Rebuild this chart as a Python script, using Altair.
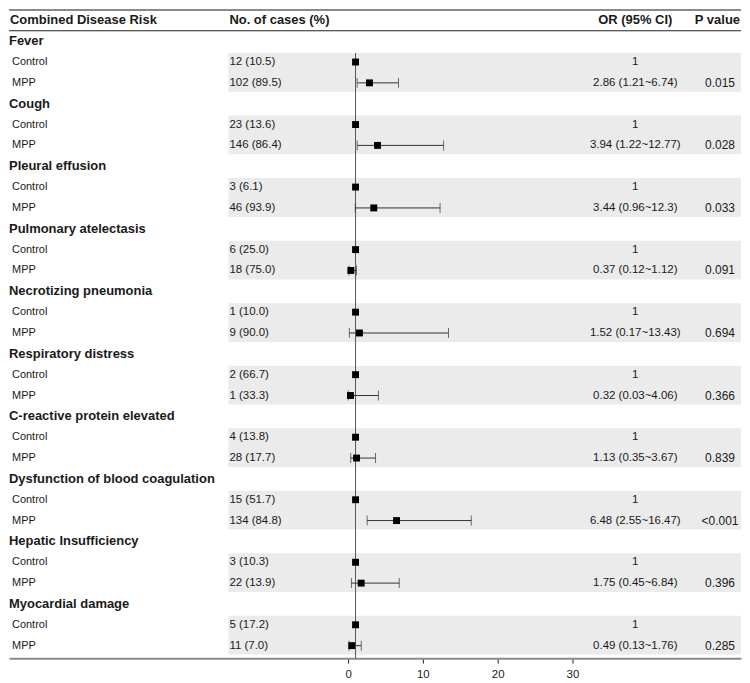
import altair as alt
import pandas as pd

groups = ["Fever", "Cough", "Pleural effusion", "Pulmonary atelectasis",
          "Necrotizing pneumonia", "Respiratory distress",
          "C-reactive protein elevated", "Dysfunction of blood coagulation",
          "Hepatic Insufficiency", "Myocardial damage"]
control_cases = ["12 (10.5)", "23 (13.6)", "3 (6.1)", "6 (25.0)", "1 (10.0)",
                 "2 (66.7)", "4 (13.8)", "15 (51.7)", "3 (10.3)", "5 (17.2)"]
mpp_cases = ["102 (89.5)", "146 (86.4)", "46 (93.9)", "18 (75.0)", "9 (90.0)",
             "1 (33.3)", "28 (17.7)", "134 (84.8)", "22 (13.9)", "11 (7.0)"]
or_mpp = [2.86, 3.94, 3.44, 0.37, 1.52, 0.32, 1.13, 6.48, 1.75, 0.49]
ci_lo = [1.21, 1.22, 0.96, 0.12, 0.17, 0.03, 0.35, 2.55, 0.45, 0.13]
ci_hi = [6.74, 12.77, 12.3, 1.12, 13.43, 4.06, 3.67, 16.47, 6.84, 1.76]
or_text = ["2.86 (1.21~6.74)", "3.94 (1.22~12.77)", "3.44 (0.96~12.3)",
           "0.37 (0.12~1.12)", "1.52 (0.17~13.43)", "0.32 (0.03~4.06)",
           "1.13 (0.35~3.67)", "6.48 (2.55~16.47)", "1.75 (0.45~6.84)",
           "0.49 (0.13~1.76)"]
p_values = ["0.015", "0.028", "0.033", "0.091", "0.694", "0.366", "0.839",
            "<0.001", "0.396", "0.285"]
control_or = 1
headers = ["Combined Disease Risk", "No. of cases (%)", "OR (95% CI)", "P value"]
x_ticks = [0, 10, 20, 30]

# ---- tables built from the arrays ----
head_rows, sub_rows, band_rows = [], [], []
for g, name in enumerate(groups):
    r = 1 + 3 * g
    head_rows.append({"row": r, "label": name})
    sub_rows.append({"row": r + 1, "label": "Control", "cases": control_cases[g],
                     "or": control_or, "ortxt": str(control_or), "p": ""})
    sub_rows.append({"row": r + 2, "label": "MPP", "cases": mpp_cases[g],
                     "or": or_mpp[g], "lo": ci_lo[g], "hi": ci_hi[g],
                     "ortxt": or_text[g], "p": p_values[g]})
    band_rows.append({"top": r + 1 - 0.43, "bot": r + 2 + 0.43})
df_head = pd.DataFrame(head_rows)
df_sub = pd.DataFrame(sub_rows)
df_mpp = df_sub[df_sub["label"] == "MPP"].copy()
df_band = pd.DataFrame(band_rows)

ROW_MAX = 30.6
df_ref = pd.DataFrame({"v": [control_or], "y0": [2 - 0.43], "y1": [ROW_MAX]})
df_lines = pd.DataFrame({"y": [-0.5, 0.5], "w": [2, 1],
                         "c": ["#8a8a8a", "#222222"]})
df_hdr = pd.DataFrame({"row": [0] * 4, "label": headers})

W, H = 734, 650
yscale = alt.Scale(domain=[-0.5, ROW_MAX], reverse=True, zero=False, nice=False)
xscale = alt.Scale(domain=[-340 / 7.5, (W - 340) / 7.5], zero=False, nice=False)
xaxis = alt.Axis(values=x_ticks, domainColor="#8a8a8a", domainWidth=2,
                 tickColor="#222222", tickSize=5, tickWidth=1, labelFontSize=11.5,
                 labelColor="#222222", labelPadding=5, grid=False, title=None,
                 labelFlush=False)
TXT = "#1a1a1a"

bands = alt.Chart(df_band).mark_rect(color="#ebebeb").encode(
    x=alt.value(220), x2=alt.value(W),
    y=alt.Y("top:Q", scale=yscale, axis=None), y2="bot:Q")

ref = alt.Chart(df_ref).mark_rule(color="#555555", strokeWidth=1).encode(
    x=alt.X("v:Q", scale=xscale, axis=xaxis),
    y=alt.Y("y0:Q", scale=yscale, axis=None), y2="y1:Q")

whisk = alt.Chart(df_mpp).mark_rule(color="#333333", strokeWidth=1).encode(
    x=alt.X("lo:Q", scale=xscale, axis=xaxis), x2="hi:Q",
    y=alt.Y("row:Q", scale=yscale, axis=None))
cap_lo = alt.Chart(df_mpp).mark_tick(orient="vertical", size=10, thickness=1,
                                     color="#333333").encode(
    x=alt.X("lo:Q", scale=xscale, axis=xaxis),
    y=alt.Y("row:Q", scale=yscale, axis=None))
cap_hi = alt.Chart(df_mpp).mark_tick(orient="vertical", size=10, thickness=1,
                                     color="#333333").encode(
    x=alt.X("hi:Q", scale=xscale, axis=xaxis),
    y=alt.Y("row:Q", scale=yscale, axis=None))
squares = alt.Chart(df_sub).mark_square(size=48, color="black", opacity=1).encode(
    x=alt.X("or:Q", scale=xscale, axis=xaxis),
    y=alt.Y("row:Q", scale=yscale, axis=None))

lines = alt.Chart(df_lines).mark_rule().encode(
    x=alt.value(0), x2=alt.value(W),
    y=alt.Y("y:Q", scale=yscale, axis=None),
    strokeWidth=alt.StrokeWidth("w:Q", scale=None, legend=None),
    color=alt.Color("c:N", scale=None, legend=None))


def txt(df, field, xpos, align="left", bold=False, size=11.5, dy=0):
    return alt.Chart(df).mark_text(align=align, baseline="middle",
                                   fontSize=size, color=TXT, dy=dy,
                                   fontWeight="bold" if bold else "normal").encode(
        x=alt.value(xpos), y=alt.Y("row:Q", scale=yscale, axis=None),
        text=f"{field}:N")


hdr = df_hdr
h1 = txt(hdr[hdr.label == headers[0]], "label", 1, bold=True, size=13)
h2 = txt(hdr[hdr.label == headers[1]], "label", 221, bold=True, size=13)
h3 = txt(hdr[hdr.label == headers[2]], "label", 628, align="center", bold=True, size=13)
h4 = txt(hdr[hdr.label == headers[3]], "label", 733, align="right", bold=True, size=13)

g_txt = txt(df_head, "label", 0, bold=True, size=13)
s_txt = txt(df_sub, "label", 3, size=11)
c_txt = txt(df_sub, "cases", 221)
o_txt = txt(df_sub, "ortxt", 628, align="center")
p_txt = txt(df_mpp, "p", 713, align="center", size=12)

chart = alt.layer(
    bands, ref, whisk, cap_lo, cap_hi, squares, lines,
    h1, h2, h3, h4, g_txt, s_txt, c_txt, o_txt, p_txt
).properties(width=W, height=H, padding=0).configure(
    font="Liberation Sans"
).configure_view(stroke=None)

chart.save("out.html", embed_options={"renderer": "svg", "actions": False})
